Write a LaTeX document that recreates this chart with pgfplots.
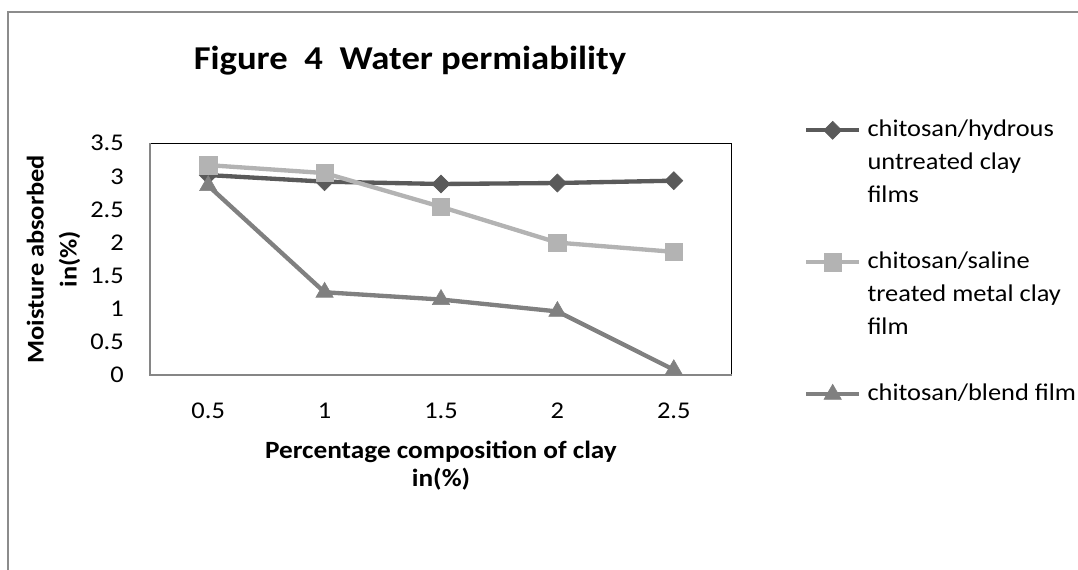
\documentclass[border=0pt]{standalone}
\usepackage{pgfplots}
\pgfplotsset{compat=1.18}
\usepackage{fontspec}
\setmainfont{Carlito}[FakeStretch=1.1]
\definecolor{sA}{HTML}{5A5A5A}
\definecolor{sB}{HTML}{B3B3B3}
\definecolor{sC}{HTML}{808080}
\definecolor{frameg}{HTML}{8C8C8C}
\definecolor{axg}{HTML}{868686}
\begin{document}
\begin{tikzpicture}
\useasboundingbox (0pt,0pt) rectangle (808.5pt,-426.75pt);
\draw[frameg, line width=1.5pt] (6pt,-432pt) -- (6pt,-9pt) -- (814pt,-9pt);
\begin{axis}[
  at={(112.5pt,-281.25pt)}, anchor=south west,
  scale only axis, width=436.5pt, height=173.8pt,
  xmin=-0.5, xmax=4.5, ymin=0, ymax=3.5,
  clip=false,
  xtick={0,1,2,3,4}, xticklabels={0.5,1,1.5,2,2.5},
  ytick={0,0.5,1,1.5,2,2.5,3,3.5}, yticklabels={0,0.5,1,1.5,2,2.5,3,3.5},
  major tick length=0pt,
  axis line style={black, line width=0.75pt},
  tick label style={font=\fontsize{18}{20}\selectfont, inner sep=0pt},
  xticklabel style={yshift=-20.5pt},
  yticklabel style={xshift=-19.5pt},
  ylabel={Moisture absorbed\\in(\%)},
  ylabel style={at={(rel axis cs:-0.1658,0.5)}, anchor=center, align=center, inner sep=0pt,
    font=\bfseries\fontsize{18}{24.75}\selectfont},
  xlabel={Percentage composition of clay\\in(\%)},
  xlabel style={at={(rel axis cs:0.5,-0.393)}, anchor=center, align=center, inner sep=0pt,
    font=\bfseries\fontsize{18.6}{21}\selectfont},
  title={Figure\ \ 4\ \ Water permiability},
  title style={at={(rel axis cs:0.4467,1.283)}, anchor=base, inner sep=0pt,
    font=\bfseries\fontsize{25}{30}\selectfont},
  legend style={at={(rel axis cs:1.123,1.1062)}, anchor=north west, draw=none, fill=none,
    inner sep=0pt, row sep=7.75pt, column sep=4.5pt,
    font=\fontsize{18}{20}\selectfont,
    nodes={inner sep=0pt, text height=13pt, text depth=4pt}},
  legend cell align=left,
  legend image code/.code={\draw[mark repeat=2,mark phase=2] plot coordinates {(-3pt,0pt) (17pt,0pt) (37pt,0pt)};},
]
\draw[axg, line width=1.5pt] (rel axis cs:0,1) -- (rel axis cs:0,0) -- (rel axis cs:1,0);
\addplot[sA, line width=3.25pt, mark=square*, mark size=4.8pt, mark options={rotate=45, solid, line width=0.4pt, fill=sA}]
  coordinates {(0,3.02) (1,2.92) (2,2.885) (3,2.90) (4,2.935)};
\addlegendentry{chitosan/hydrous}
\addlegendimage{empty legend}\addlegendentry{untreated clay}
\addlegendimage{empty legend}\addlegendentry{films}
\addlegendimage{empty legend}\addlegendentry{\mbox{}}
\addplot[sB, line width=3.25pt, mark=square*, mark size=6.5pt, mark options={solid, line width=0.4pt, fill=sB}]
  coordinates {(0,3.17) (1,3.05) (2,2.54) (3,2.00) (4,1.86)};
\addlegendentry{chitosan/saline}
\addlegendimage{empty legend}\addlegendentry{treated metal clay}
\addlegendimage{empty legend}\addlegendentry{film}
\addlegendimage{empty legend}\addlegendentry{\mbox{}}
\addplot[sC, line width=3.25pt, mark=triangle*, mark size=7.5pt, mark options={solid, line width=0.4pt, fill=sC}]
  coordinates {(0,2.86) (1,1.25) (2,1.14) (3,0.96) (4,0.08)};
\addlegendentry{chitosan/blend film}
\end{axis}
\end{tikzpicture}
\end{document}
